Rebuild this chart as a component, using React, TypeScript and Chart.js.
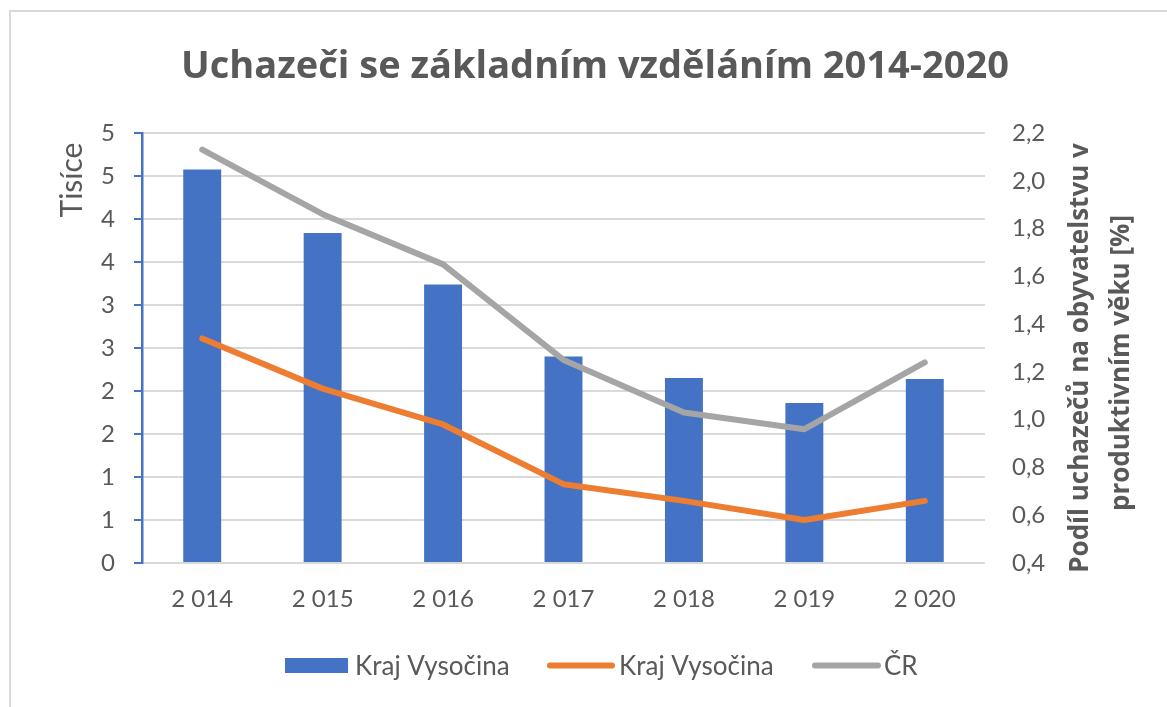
import React, { useEffect, useRef } from 'react';
import { Chart, registerables } from 'chart.js';

Chart.register(...registerables);

const categories = ['2 014', '2 015', '2 016', '2 017', '2 018', '2 019', '2 020'];
const barValues = [4.575, 3.837, 3.237, 2.4, 2.15, 1.86, 2.14];
const orangeValues = [1.34, 1.13, 0.98, 0.73, 0.66, 0.58, 0.66];
const grayValues = [2.13, 1.86, 1.65, 1.25, 1.03, 0.96, 1.24];
const leftTickLabels = ['0', '1', '1', '2', '2', '3', '3', '4', '4', '5', '5'];
const rightTickLabels = ['0,4', '0,6', '0,8', '1,0', '1,2', '1,4', '1,6', '1,8', '2,0', '2,2'];
const seriesLabels = ['Kraj Vysočina', 'Kraj Vysočina', 'ČR'];
const titleText = 'Uchazeči se základním vzděláním 2014-2020';
const leftTitle = 'Tisíce';
const rightTitleLines = ['Podíl uchazečů na obyvatelstvu v', 'produktivním věku [%]'];

const BLUE = '#4472C4';
const ORANGE = '#ED7D31';
const GRAY = '#A5A5A5';
const TEXT = '#595959';
const GRID = '#D9D9D9';
const FONT = 'Lato';
const BOLDFONT = '"Open Sans"';

const decorPlugin = {
  id: 'decor',
  beforeDraw(chart: any) {
    const ctx = chart.ctx;
    ctx.save();
    ctx.fillStyle = '#ffffff';
    ctx.fillRect(0, 0, chart.width, chart.height);
    ctx.strokeStyle = '#D9D9D9';
    ctx.lineWidth = 2;
    ctx.strokeRect(10, 11, chart.width + 20, chart.height + 20);
    ctx.restore();
  },
  afterDraw(chart: any) {
    const ctx = chart.ctx;
    ctx.save();
    // title
    ctx.fillStyle = TEXT;
    ctx.font = `bold 38px ${BOLDFONT}`;
    ctx.textAlign = 'center';
    ctx.textBaseline = 'alphabetic';
    ctx.fillText(titleText, 595, 78);

    // left axis title
    ctx.save();
    ctx.translate(72, 180);
    ctx.rotate(-Math.PI / 2);
    ctx.font = `30px ${FONT}`;
    ctx.textAlign = 'center';
    ctx.textBaseline = 'middle';
    ctx.fillText(leftTitle, 0, 0);
    ctx.restore();

    // right axis title
    const rt = [
      [1081, 358],
      [1122, 363],
    ];
    rightTitleLines.forEach((line, i) => {
      ctx.save();
      ctx.font = `bold 26px ${BOLDFONT}`;
      ctx.textAlign = 'center';
      ctx.textBaseline = 'middle';
      ctx.translate(rt[i][0], rt[i][1]);
      ctx.rotate(-Math.PI / 2);
      ctx.fillText(line, 0, 0);
      ctx.restore();
    });

    // legend
    const ly = 665.5;
    ctx.font = `26px ${FONT}`;
    ctx.textAlign = 'left';
    ctx.textBaseline = 'alphabetic';
    ctx.fillStyle = BLUE;
    ctx.fillRect(285, 658, 63, 15);
    ctx.fillStyle = TEXT;
    ctx.fillText(seriesLabels[0], 355, 675);

    ctx.lineCap = 'round';
    ctx.lineWidth = 6;
    ctx.strokeStyle = ORANGE;
    ctx.beginPath();
    ctx.moveTo(550, ly);
    ctx.lineTo(612, ly);
    ctx.stroke();
    ctx.fillText(seriesLabels[1], 619, 675);

    ctx.strokeStyle = GRAY;
    ctx.beginPath();
    ctx.moveTo(815, ly);
    ctx.lineTo(878, ly);
    ctx.stroke();
    ctx.fillText(seriesLabels[2], 884, 675);
    ctx.restore();
  },
};

export default function App() {
  const ref = useRef<HTMLCanvasElement | null>(null);

  useEffect(() => {
    if (!ref.current) return;
    const chart = new Chart(ref.current, {
      type: 'bar',
      data: {
        labels: categories,
        datasets: [
          {
            type: 'line',
            label: seriesLabels[2],
            data: grayValues,
            yAxisID: 'y1',
            borderColor: GRAY,
            backgroundColor: GRAY,
            borderWidth: 6,
            pointRadius: 0,
            borderJoinStyle: 'round',
            borderCapStyle: 'round',
            tension: 0,
            order: 1,
          } as any,
          {
            type: 'line',
            label: seriesLabels[1],
            data: orangeValues,
            yAxisID: 'y1',
            borderColor: ORANGE,
            backgroundColor: ORANGE,
            borderWidth: 6,
            pointRadius: 0,
            borderJoinStyle: 'round',
            borderCapStyle: 'round',
            tension: 0,
            order: 2,
          } as any,
          {
            type: 'bar',
            label: seriesLabels[0],
            data: barValues,
            yAxisID: 'y',
            backgroundColor: BLUE,
            categoryPercentage: 1,
            barPercentage: 0.315,
            order: 10,
          } as any,
        ],
      },
      options: {
        responsive: false,
        animation: false,
        devicePixelRatio: 1,
        layout: { padding: { top: 133, left: 0, right: 0, bottom: 0 } },
        plugins: {
          legend: { display: false },
          title: { display: false },
          tooltip: { enabled: false },
        },
        scales: {
          x: {
            afterFit: (s: any) => { s.height = 144; },
            grid: { display: false, drawTicks: false },
            border: { display: false },
            ticks: { color: TEXT, font: { family: FONT, size: 24 }, padding: 22, maxRotation: 0 },
          },
          y: {
            position: 'left',
            min: 0,
            max: 5,
            afterFit: (s: any) => { s.width = 142; },
            grid: { color: GRID, lineWidth: 2, tickColor: BLUE, tickLength: 8, drawTicks: true },
            border: { display: true, color: BLUE, width: 2.5 },
            ticks: {
              stepSize: 0.5,
              color: TEXT,
              font: { family: FONT, size: 24 },
              padding: 19,
              callback: (_v: any, i: number) => leftTickLabels[i],
            },
          },
          y1: {
            position: 'right',
            min: 0.4,
            max: 2.2,
            afterFit: (s: any) => { s.width = 182; },
            grid: { display: false, drawTicks: false },
            border: { display: false },
            ticks: {
              stepSize: 0.2,
              color: TEXT,
              font: { family: FONT, size: 24 },
              padding: 27,
              callback: (_v: any, i: number) => rightTickLabels[i],
            },
          },
        },
      } as any,
      plugins: [decorPlugin],
    });
    return () => chart.destroy();
  }, []);

  return (
    <div style={{ position: 'fixed', left: 0, top: 0, width: 1167, height: 707, overflow: 'hidden', background: '#fff' }}>
      <canvas ref={ref} width={1167} height={707} style={{ width: 1167, height: 707, display: 'block' }} />
    </div>
  );
}
